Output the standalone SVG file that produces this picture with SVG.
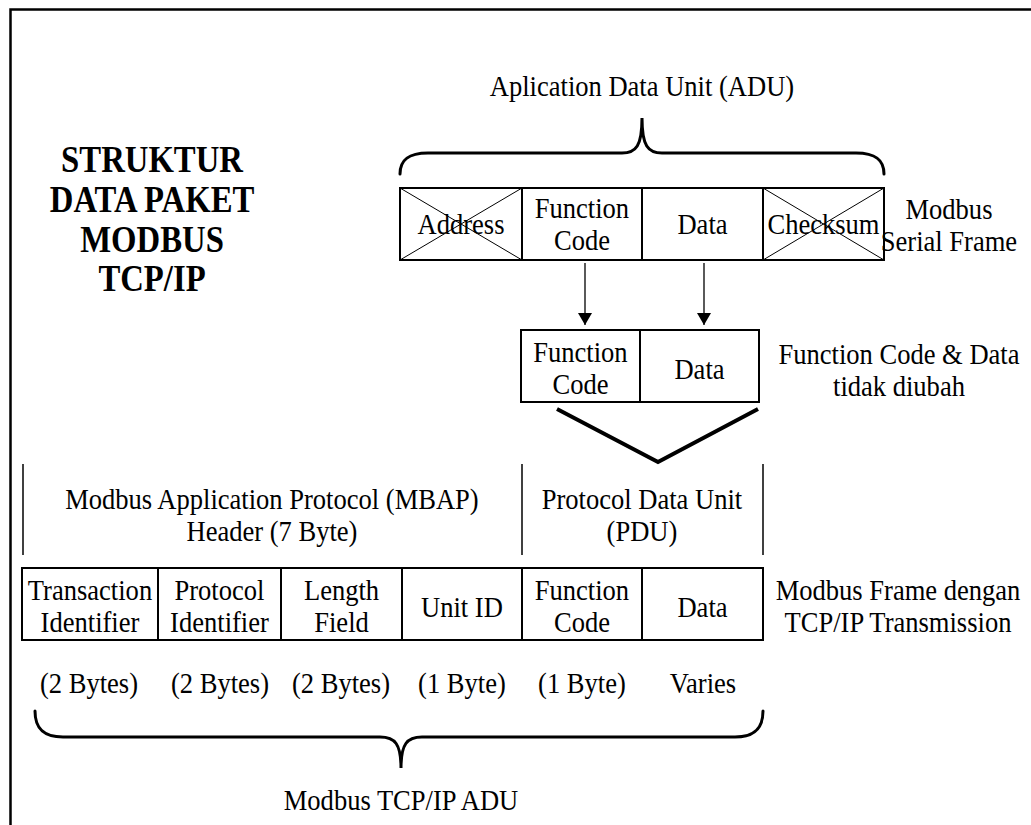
<svg xmlns="http://www.w3.org/2000/svg" width="1031" height="825" viewBox="0 0 1031 825">
  <style>
    .t { font-family: "Liberation Serif", "Times New Roman", serif; font-size: 30px; fill: #000; text-anchor: middle; }
    .title { font-family: "Liberation Serif", "Times New Roman", serif; font-size: 37px; font-weight: bold; fill: #000; text-anchor: middle; }
    .box { fill: none; stroke: #000; stroke-width: 2; }
    .cross { stroke: #000; stroke-width: 1; }
    .brace { fill: none; stroke: #000; stroke-width: 3; stroke-linecap: round; }
    .sep { stroke: #000; stroke-width: 1.5; }
    .conn { stroke: #000; stroke-width: 1.3; fill: none; }
  </style>
  <defs>
    <marker id="arrow" viewBox="0 0 12 14" refX="12" refY="7" markerWidth="12" markerHeight="14" markerUnits="userSpaceOnUse" orient="auto">
      <path d="M0,0 L12,7 L0,14 Z" fill="#000"/>
    </marker>
  </defs>

  <rect width="1031" height="825" fill="#fff"/>
  <!-- page frame (open to the right and bottom) -->
  <path d="M10.5,830 L10.5,9.5 L1040,9.5" fill="none" stroke="#000" stroke-width="2.5"/>

  <!-- heading; all lettering uses a narrowed serif face -->
  <g id="title" transform="scale(0.885 1)">
    <text class="title" x="171.8" y="172">STRUKTUR</text>
    <text class="title" x="171.8" y="212">DATA PAKET</text>
    <text class="title" x="171.8" y="252">MODBUS</text>
    <text class="title" x="171.8" y="291">TCP/IP</text>
  </g>

  <!-- serial ADU brace and label -->
  <g id="adu-serial">
    <path class="brace" d="M400,174 C400,160 408,153 428,153 L622,153 C636,153 642,146 642,118 C642,146 648,153 662,153 L856,153 C876,153 884,160 884,174"/>
    <g transform="scale(0.885 1)"><text class="t" x="725.4" y="96">Aplication Data Unit (ADU)</text></g>
  </g>

  <!-- Modbus serial frame -->
  <g id="serial-frame">
    <rect class="box" x="400" y="188" width="484" height="72"/>
    <line class="box" x1="522" y1="188" x2="522" y2="260"/>
    <line class="box" x1="642" y1="188" x2="642" y2="260"/>
    <line class="box" x1="763" y1="188" x2="763" y2="260"/>
    <line class="cross" x1="400" y1="188" x2="522" y2="260"/>
    <line class="cross" x1="400" y1="260" x2="522" y2="188"/>
    <line class="cross" x1="763" y1="188" x2="884" y2="260"/>
    <line class="cross" x1="763" y1="260" x2="884" y2="188"/>
    <g transform="scale(0.885 1)">
      <text class="t" x="520.9" y="234">Address</text>
      <text class="t" x="657.6" y="218">Function</text>
      <text class="t" x="657.6" y="250">Code</text>
      <text class="t" x="793.8" y="234">Data</text>
      <text class="t" x="930.5" y="234">Checksum</text>
      <text class="t" x="1072.3" y="219">Modbus</text>
      <text class="t" x="1072.3" y="251">Serial Frame</text>
    </g>
  </g>

  <!-- PDU carried over unchanged -->
  <g id="pdu-box">
    <rect class="box" x="521" y="330" width="238" height="72"/>
    <line class="box" x1="640" y1="330" x2="640" y2="402"/>
    <g transform="scale(0.885 1)">
      <text class="t" x="655.9" y="362">Function</text>
      <text class="t" x="655.9" y="394">Code</text>
      <text class="t" x="790.4" y="379">Data</text>
      <text class="t" x="1015.8" y="364">Function Code &amp; Data</text>
      <text class="t" x="1015.8" y="396">tidak diubah</text>
    </g>
  </g>

  <!-- connectors -->
  <g id="connectors">
    <line class="conn" x1="585" y1="263" x2="585" y2="325" marker-end="url(#arrow)"/>
    <line class="conn" x1="704" y1="263" x2="704" y2="325" marker-end="url(#arrow)"/>
    <polyline points="557,409 658,462 758,409" fill="none" stroke="#000" stroke-width="4"/>
  </g>

  <!-- MBAP / PDU headings -->
  <g id="section-labels">
    <line class="sep" x1="23" y1="464" x2="23" y2="555"/>
    <line class="sep" x1="522" y1="464" x2="522" y2="555"/>
    <line class="sep" x1="763" y1="464" x2="763" y2="555"/>
    <g transform="scale(0.885 1)">
      <text class="t" x="307.3" y="509">Modbus Application Protocol (MBAP)</text>
      <text class="t" x="307.3" y="541">Header (7 Byte)</text>
      <text class="t" x="725.4" y="509">Protocol Data Unit</text>
      <text class="t" x="725.4" y="541">(PDU)</text>
    </g>
  </g>

  <!-- Modbus TCP/IP frame -->
  <g id="tcp-frame">
    <rect class="box" x="22" y="568" width="741" height="72"/>
    <line class="box" x1="158" y1="568" x2="158" y2="640"/>
    <line class="box" x1="281" y1="568" x2="281" y2="640"/>
    <line class="box" x1="402" y1="568" x2="402" y2="640"/>
    <line class="box" x1="522" y1="568" x2="522" y2="640"/>
    <line class="box" x1="642" y1="568" x2="642" y2="640"/>
    <g transform="scale(0.885 1)">
      <text class="t" x="101.7" y="600">Transaction</text>
      <text class="t" x="101.7" y="632">Identifier</text>
      <text class="t" x="248.0" y="600">Protocol</text>
      <text class="t" x="248.0" y="632">Identifier</text>
      <text class="t" x="385.9" y="600">Length</text>
      <text class="t" x="385.9" y="632">Field</text>
      <text class="t" x="522.0" y="617">Unit ID</text>
      <text class="t" x="657.6" y="600">Function</text>
      <text class="t" x="657.6" y="632">Code</text>
      <text class="t" x="793.8" y="617">Data</text>
      <text class="t" x="1014.7" y="600">Modbus Frame dengan</text>
      <text class="t" x="1014.7" y="632">TCP/IP Transmission</text>
    </g>
  </g>

  <!-- field sizes -->
  <g id="sizes" transform="scale(0.885 1)">
    <text class="t" x="100.6" y="693">(2 Bytes)</text>
    <text class="t" x="248.6" y="693">(2 Bytes)</text>
    <text class="t" x="385.3" y="693">(2 Bytes)</text>
    <text class="t" x="522.0" y="693">(1 Byte)</text>
    <text class="t" x="657.6" y="693">(1 Byte)</text>
    <text class="t" x="794.4" y="693">Varies</text>
  </g>

  <!-- TCP/IP ADU brace and label -->
  <g id="adu-tcp">
    <path class="brace" d="M35,711 C35,728 43,737 63,737 L380,737 C395,737 401,744 401,768 C401,744 407,737 422,737 L735,737 C755,737 763,728 763,711"/>
    <g transform="scale(0.885 1)"><text class="t" x="453.1" y="810">Modbus TCP/IP ADU</text></g>
  </g>
</svg>
